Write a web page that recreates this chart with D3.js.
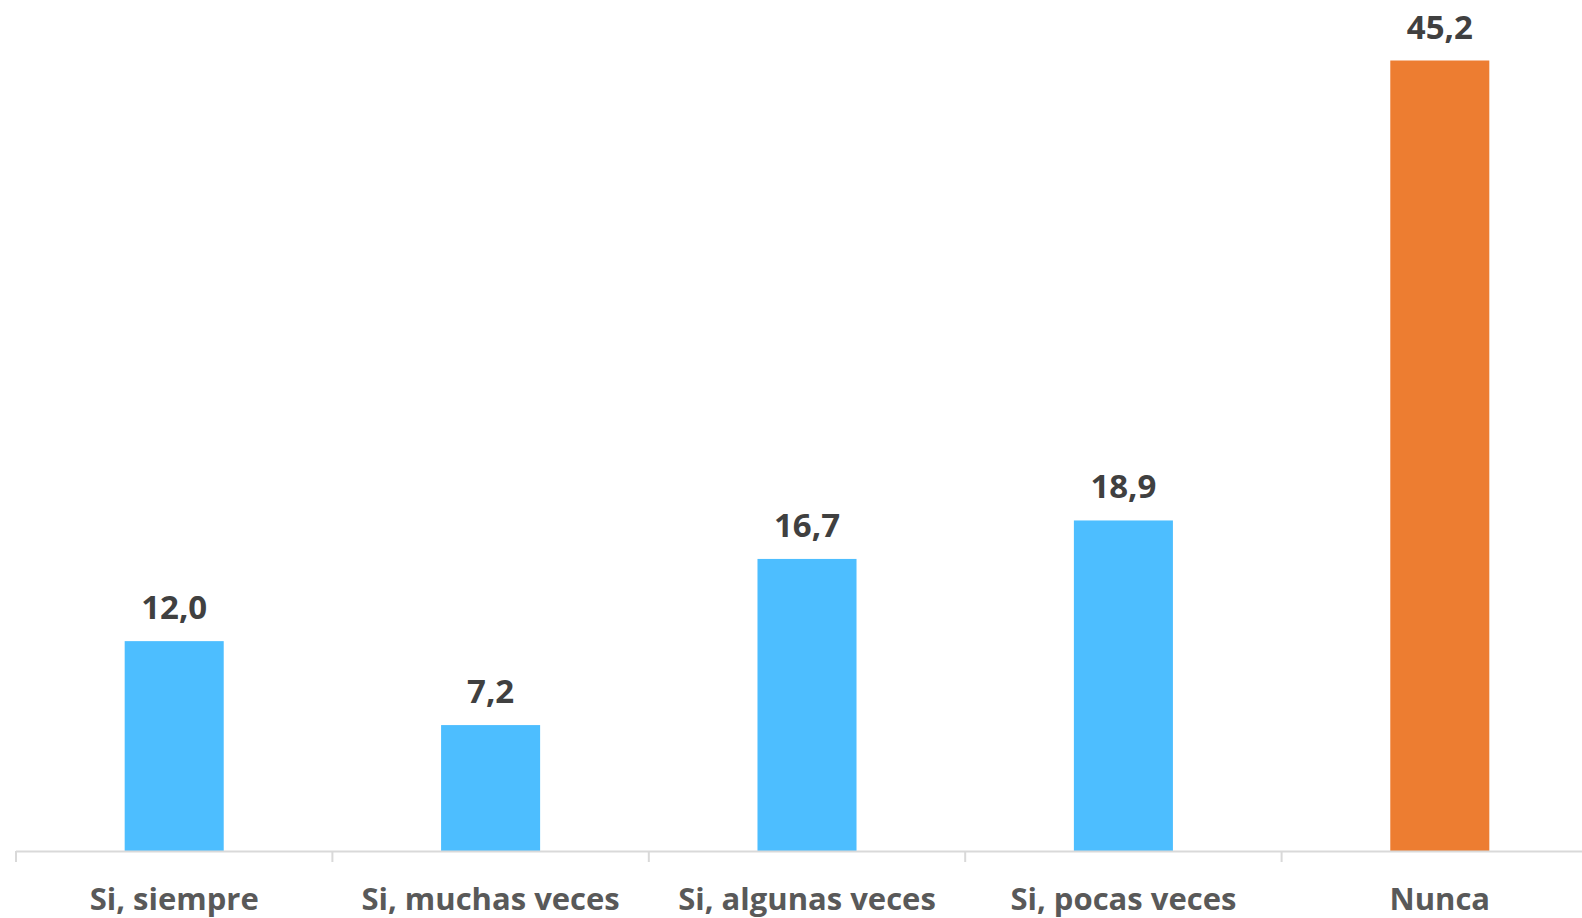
<!DOCTYPE html>
<head>
  <meta charset="utf-8">
  <title>Bar chart</title>
  <style>
    body { margin: 0; background: #fff; }
    text { font-family: "Open Sans", sans-serif; font-weight: bold; }
  </style>
</head>

<body>
  <script src="https://d3js.org/d3.v7.min.js"></script>
  <script>
  const categories = ["Si, siempre", "Si, muchas veces", "Si, algunas veces", "Si, pocas veces", "Nunca"];
  const values = [12.0, 7.2, 16.7, 18.9, 45.2];
  const colors = ["#4dbeff", "#4dbeff", "#4dbeff", "#4dbeff", "#ed7d31"];

  const width = 1582, height = 918;
  const baseline = 851;

  const svg = d3.select("body").append("svg")
    .attr("width", width)
    .attr("height", height);

  // the last band runs past the right edge, as in the original
  const x = d3.scaleBand()
    .domain(categories)
    .range([16, 1598])
    .paddingInner(0.687)
    .paddingOuter(0.687 / 2);

  const y = d3.scaleLinear()
    .domain([0, 45.2])
    .range([baseline, 60.5]);

  svg.append("g")
    .selectAll("rect")
    .data(values)
    .join("rect")
    .attr("x", (d, i) => x(categories[i]))
    .attr("y", d => y(d))
    .attr("width", x.bandwidth())
    .attr("height", d => baseline - y(d))
    .attr("fill", (d, i) => colors[i]);

  // axis line and tick marks between categories
  svg.append("line")
    .attr("x1", 16).attr("x2", width)
    .attr("y1", baseline + 0.5).attr("y2", baseline + 0.5)
    .attr("stroke", "#d9d9d9").attr("stroke-width", 2);

  svg.append("g")
    .selectAll("line")
    .data(categories)
    .join("line")
    .attr("x1", d => x(d) - x.step() * x.paddingInner() / 2)
    .attr("x2", d => x(d) - x.step() * x.paddingInner() / 2)
    .attr("y1", baseline)
    .attr("y2", baseline + 11)
    .attr("stroke", "#d9d9d9").attr("stroke-width", 2);

  svg.append("g")
    .selectAll("text")
    .data(values)
    .join("text")
    .attr("x", (d, i) => x(categories[i]) + x.bandwidth() / 2)
    .attr("y", d => y(d) - 22)
    .attr("text-anchor", "middle")
    .attr("font-size", 33)
    .attr("fill", "#404040")
    .text(d => d.toFixed(1).replace(".", ","));

  // labels sit low and get clipped by the bottom edge, like the source image
  svg.append("g")
    .selectAll("text")
    .data(categories)
    .join("text")
    .attr("x", d => x(d) + x.bandwidth() / 2)
    .attr("y", 910)
    .attr("text-anchor", "middle")
    .attr("font-size", 31)
    .attr("fill", "#595959")
    .text(d => d);
  </script>
</body>
</html>
